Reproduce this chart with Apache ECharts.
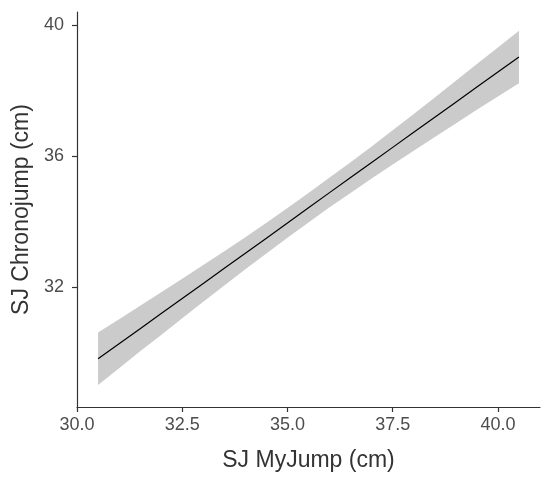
<!DOCTYPE html>
<html>
<head>
<meta charset="utf-8">
<script src="https://cdn.jsdelivr.net/npm/echarts@6/dist/echarts.min.js"></script>
<style>
  html, body { margin: 0; padding: 0; background: #fff; }
  #chart { width: 550px; height: 480px; }
</style>
</head>
<body>
<div id="chart"></div>
<script>
// fitted line + confidence band
const xVals = [30.5, 31, 31.5, 32, 32.5, 33, 33.5, 34, 34.5, 35, 35.5, 36, 36.5, 37, 37.5, 38, 38.5, 39, 39.5, 40, 40.5]
const fitVals = [29.82, 30.28, 30.74, 31.20, 31.66, 32.12, 32.58, 33.04, 33.50, 33.96, 34.43, 34.89, 35.35, 35.81, 36.27, 36.73, 37.19, 37.65, 38.11, 38.57, 39.03]
const lowerVals = [29.02, 29.53, 30.05, 30.55, 31.06, 31.56, 32.06, 32.55, 33.03, 33.51, 33.98, 34.44, 34.88, 35.32, 35.75, 36.17, 36.59, 37.00, 37.42, 37.82, 38.23]
const upperVals = [30.62, 31.03, 31.44, 31.85, 32.26, 32.68, 33.10, 33.53, 33.97, 34.42, 34.88, 35.35, 35.82, 36.30, 36.79, 37.29, 37.79, 38.30, 38.81, 39.32, 39.83]
const xTicks = [30, 32.5, 35, 37.5, 40]
const yTicks = [32, 36, 40]

const chart = echarts.init(document.getElementById('chart'))

const axisCommon = {
  axisLine: { show: true, lineStyle: { color: '#333', width: 1.2 } },
  axisTick: { show: true, length: 5, lineStyle: { color: '#333', width: 1.2 } },
  splitLine: { show: false },
  nameLocation: 'middle',
  nameTextStyle: { color: '#333', fontSize: 23, fontFamily: 'Liberation Sans' }
}

// band drawn as one polygon: lower edge forward, upper edge back
function renderBand(params, api) {
  if (params.dataIndex !== 0) return null
  const pts = []
  for (let i = 0; i < xVals.length; i++) pts.push(api.coord([xVals[i], lowerVals[i]]))
  for (let i = xVals.length - 1; i >= 0; i--) pts.push(api.coord([xVals[i], upperVals[i]]))
  return {
    type: 'polygon',
    shape: { points: pts },
    style: { fill: '#cbcbcb' }
  }
}

chart.setOption({
  animation: false,
  grid: { left: 77, right: 10, top: 12, bottom: 73 },
  xAxis: Object.assign({}, axisCommon, {
    type: 'value',
    min: 30,
    max: 41,
    name: 'SJ MyJump (cm)',
    nameGap: 42,
    axisTick: Object.assign({}, axisCommon.axisTick, { customValues: xTicks }),
    axisLabel: {
      customValues: xTicks,
      margin: 9,
      color: '#4d4d4d',
      fontSize: 18,
      fontFamily: 'Liberation Sans',
      formatter: v => v.toFixed(1)
    }
  }),
  yAxis: Object.assign({}, axisCommon, {
    type: 'value',
    min: 28.35,
    max: 40.4,
    name: 'SJ Chronojump (cm)',
    nameGap: 44,
    axisTick: Object.assign({}, axisCommon.axisTick, { customValues: yTicks }),
    axisLabel: {
      customValues: yTicks,
      margin: 13,
      color: '#4d4d4d',
      fontSize: 18,
      fontFamily: 'Liberation Sans'
    }
  }),
  series: [
    {
      type: 'custom',
      renderItem: renderBand,
      data: xVals.map((x, i) => [x, lowerVals[i], upperVals[i]]),
      encode: { x: 0, y: [1, 2] },
      z: 1
    },
    {
      type: 'line',
      symbol: 'none',
      lineStyle: { color: '#000', width: 1.2 },
      data: xVals.map((x, i) => [x, fitVals[i]]),
      z: 2
    }
  ]
})
</script>
</body>
</html>
